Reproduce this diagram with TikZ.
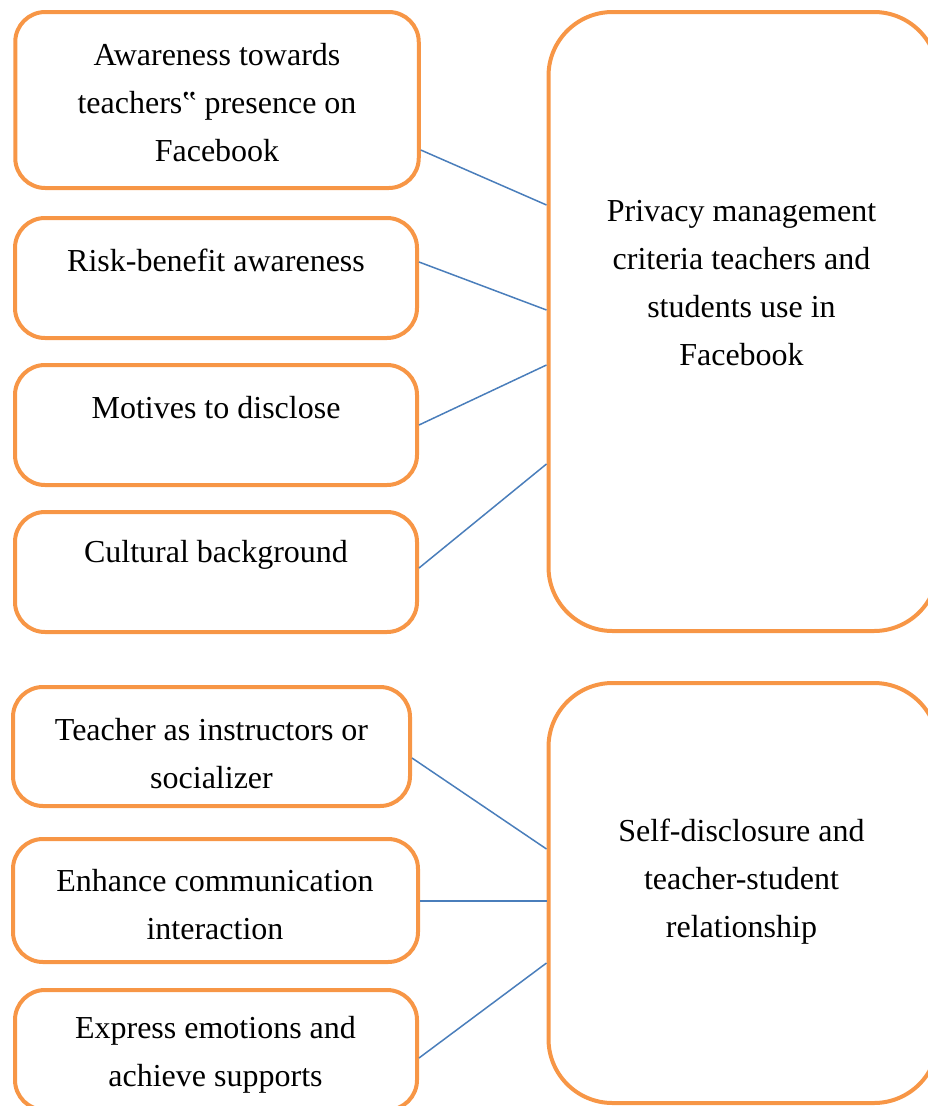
\documentclass[tikz,border=0pt]{standalone}
\usepackage{fontspec}
\setmainfont{Liberation Serif}
\definecolor{boxorange}{HTML}{F79646}
\definecolor{linkblue}{HTML}{4A7EBB}
\tikzset{
  leftbox/.style={draw=boxorange, line width=4pt, rounded corners=30pt, inner sep=0pt},
  rightbox/.style={draw=boxorange, line width=4pt, rounded corners=64pt, inner sep=0pt},
  label text/.style={inner sep=0pt, align=center, font=\fontsize{32}{48}\selectfont},
  link/.style={draw=linkblue, line width=1.5pt}
}
\begin{document}
\begin{tikzpicture}[x=1pt,y=-1pt]
\useasboundingbox (0,0) rectangle (928,1106);
\clip (0,0) rectangle (928,1106);
% boxes
\node[leftbox, minimum width=403.5pt, minimum height=176pt] (b1) at (217,100) {};
\node[leftbox, minimum width=402pt, minimum height=120pt] (b2) at (216,278) {};
\node[leftbox, minimum width=402pt, minimum height=120pt] (b3) at (216,425) {};
\node[leftbox, minimum width=402pt, minimum height=120pt] (b4) at (216,572) {};
\node[leftbox, minimum width=397pt, minimum height=119pt] (b5) at (211.5,746.5) {};
\node[leftbox, minimum width=405pt, minimum height=123pt] (b6) at (215.5,900.5) {};
\node[leftbox, minimum width=402pt, minimum height=120pt] (b7) at (216,1050) {};
\node[rightbox, minimum width=389.5pt, minimum height=619pt] (r1) at (743.25,321.5) {};
\node[rightbox, minimum width=389.5pt, minimum height=420pt] (r2) at (743.25,893) {};
% texts
\node[label text] (t1) at (217,103) {Awareness towards\\teachers‟ presence on\\Facebook};
\node[label text] (t2) at (216,260.5) {Risk-benefit awareness};
\node[label text] (t3) at (216,407.5) {Motives to disclose};
\node[label text] (t4) at (216,554.5) {Cultural background};
\node[label text] (t5) at (211.5,754) {Teacher as instructors or\\socializer};
\node[label text] (t6) at (215,904.5) {Enhance communication\\interaction};
\node[label text] (t7) at (215.5,1055) {Express emotions and\\achieve supports};
\node[label text] (tr1) at (741.5,283) {Privacy management\\criteria teachers and\\students use in\\Facebook};
\node[label text] (tr2) at (741.5,882) {Self-disclosure and\\teacher-student\\relationship};
% connectors
\draw[link] (b1.east |- 0,150) -- (r1.west |- 0,205);
\draw[link] (b2.east |- 0,262) -- (r1.west |- 0,310);
\draw[link] (b3.east |- 0,425) -- (r1.west |- 0,365);
\draw[link] (b4.east |- 0,568) -- (r1.west |- 0,464);
\draw[link] (b5.east |- 0,758) -- (r2.west |- 0,849);
\draw[link] (b6.east |- 0,901) -- (r2.west |- 0,901);
\draw[link] (b7.east |- 0,1058) -- (r2.west |- 0,963);
\end{tikzpicture}
\end{document}
